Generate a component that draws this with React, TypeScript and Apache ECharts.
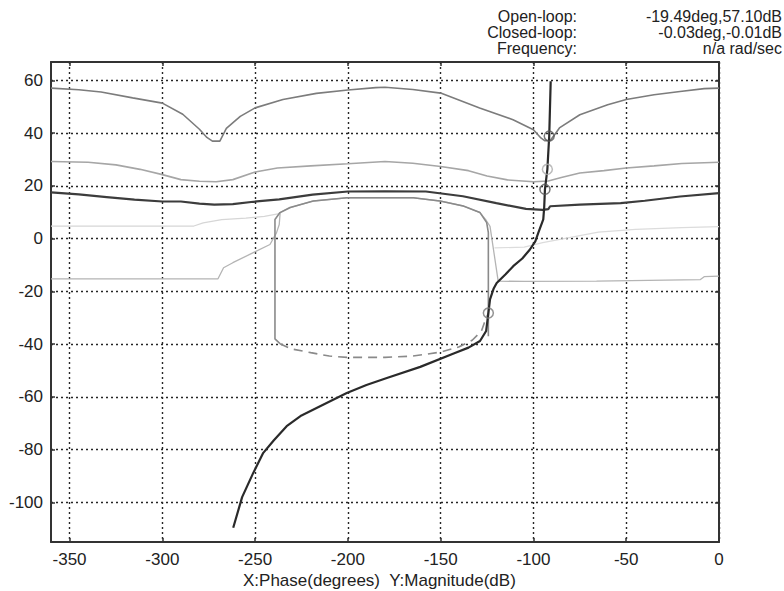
import React, { useEffect, useRef } from "react";
import * as echarts from "echarts";

// ---- tick labels ----
const xTicks = [-350, -300, -250, -200, -150, -100, -50, 0];
const yTicks = [-100, -80, -60, -40, -20, 0, 20, 40, 60];

// ---- header readout ----
const headerLabels = ["Open-loop:", "Closed-loop:", "Frequency:"];
const headerValues = ["-19.49deg,57.10dB", "-0.03deg,-0.01dB", "n/a rad/sec"];
const axisTitle = "X:Phase(degrees)  Y:Magnitude(dB)";

// ---- series: [phase (deg), magnitude (dB)] ----
const contourTop = [
  [-360, 57.1], [-345, 56.5], [-333, 55.6], [-316, 53.4], [-300, 51.4], [-289, 47.2],
  [-280, 41.5], [-276, 38.4], [-273, 37.0], [-269, 37.0], [-265.5, 41.8], [-258, 46.4],
  [-250, 49.6], [-235, 52.8], [-217, 55.1], [-200, 56.4], [-185, 57.3], [-180, 57.4],
  [-165, 56.6], [-150, 55.2], [-129, 49.6], [-111, 45.1], [-100, 41.3], [-96, 38.2],
  [-94, 37.2], [-91, 37.2], [-88.5, 39.5], [-86, 42], [-75, 47], [-60, 50.8],
  [-50, 52.8], [-35, 54.6], [-21, 55.8], [-8, 56.9], [0, 57.1],
];
const contourMid = [
  [-360, 29.3], [-340, 29], [-325, 28], [-312, 26.3], [-300, 24.3], [-290, 22.4],
  [-280, 21.8], [-271, 21.6], [-262, 22.4], [-250, 25.3], [-238, 26.8], [-220, 27.6],
  [-200, 28.4], [-180, 29.3], [-165, 28.6], [-150, 27.4], [-135, 25.8], [-125, 23.8],
  [-114, 22.3], [-100, 21.6], [-92, 21.9], [-85, 23.2], [-75, 24.9], [-62, 25.8],
  [-50, 26.8], [-35, 27.6], [-20, 28.5], [0, 29.0],
];
const contourDark = [
  [-360, 17.6], [-345, 16.8], [-330, 15.8], [-315, 14.8], [-300, 14.1], [-290, 14.1],
  [-280, 13.3], [-272, 12.9], [-262, 13.1], [-251, 14.0], [-237, 14.9], [-219, 16.7],
  [-200, 17.9], [-180, 18.0], [-158, 17.9], [-138, 16.1], [-120, 13.5], [-104, 11.3],
  [-95, 10.9], [-92, 11.2], [-91, 12.3], [-75, 12.9], [-53, 13.5], [-40, 14.4],
  [-21, 16.0], [0, 17.3],
];
const contourLight = [
  [-360, -15.2], [-270, -15.2], [-267, -11.0], [-262, -9.1], [-251, -5.3], [-242, -2.2],
  [-238.5, 2.2], [-237, 5.4], [-236.5, 9.9], [-231, 11.8], [-218.6, 14.3], [-200.6, 15.5],
  [-164.7, 15.5], [-150.4, 14.3], [-137.8, 12.4], [-128.8, 9.9], [-125.5, 7.0],
  [-123.4, 4.7], [-119, -16.1], [-105, -16.2], [-66, -16.1], [-10, -15.5], [-8, -14.4],
  [0, -14.2],
];
const faintLeft = [
  [-360, 4.8], [-320, 4.8], [-283, 4.8], [-278, 6.0], [-268, 7.2], [-255, 7.8],
  [-245, 8.5], [-237, 9.5],
];
const faintRight = [
  [-121, -3.5], [-105, -3.2], [-95, -1.5], [-80, 0.5], [-65, 2.5], [-45, 3.5],
  [-20, 4.2], [0, 4.6],
];
const loopSolid = [
  [-236.6, -39.8], [-239.3, -38.0], [-239.3, 7.3], [-236.6, 9.9], [-231.2, 11.8],
  [-218.6, 14.3], [-200.6, 15.5], [-164.7, 15.5], [-150.4, 14.3], [-137.8, 12.4],
  [-128.8, 9.9], [-125.2, 6.1], [-124.3, 2.3], [-124.3, -37.0],
];
const loopDashed = [
  [-236.6, -39.8], [-231, -41.7], [-220, -43.2], [-210, -44.5], [-200, -45],
  [-180, -45], [-165, -44.5], [-150, -43], [-140, -41], [-133, -38.5], [-128, -35],
  [-126, -31], [-124.3, -28.2],
];
const openLoop = [
  [-261.8, -109.6], [-257, -98], [-251, -88.8], [-245.6, -81.2], [-240, -76.5],
  [-233, -71.1], [-225, -67], [-215, -63.5], [-200.6, -58.5], [-190, -55.5],
  [-179, -52.8], [-161, -48.6], [-143, -43.5], [-135, -41.3], [-128.8, -38.8],
  [-125.5, -35], [-124.3, -28.2], [-123.4, -23], [-121.5, -19], [-119.8, -16.8],
  [-115, -13.5], [-110.9, -10.4], [-106, -7.5], [-101.9, -4.1], [-99, -1],
  [-97.4, 2.2], [-94.7, 7.3], [-94.2, 12], [-93.8, 18.7], [-92.5, 26.3],
  [-91.5, 38.9], [-90.7, 59.7],
];
const markersDark = [[-91.5, 38.9], [-93.8, 18.7]];
const markersLight = [[-92.5, 26.3]];
const markersMid = [[-124.3, -28.2]];

const FONT = "Liberation Sans, Arial, sans-serif";
const FS = 17;

function buildOption(): any {
  const gridLine = { show: true, lineStyle: { color: "#262626", width: 1.4, type: [2, 3] } };
  const axisLine = { show: true, onZero: false, lineStyle: { color: "#333", width: 2 } };
  const label = { color: "#222", fontSize: FS, fontFamily: FONT };
  const tick = (vals: number[]) => ({
    show: true, inside: true, length: 4, customValues: vals,
    lineStyle: { color: "#333", width: 1.5 },
  });
  const line = (data: number[][], color: string, width: number, type: any = "solid", z = 2) => ({
    type: "line",
    data,
    showSymbol: false,
    symbol: "none",
    lineStyle: { color, width, type },
    z,
    silent: true,
  });
  const marks = (data: number[][], color: string) => ({
    type: "scatter",
    data,
    symbol: "circle",
    symbolSize: 10,
    itemStyle: { color: "rgba(0,0,0,0)", borderColor: color, borderWidth: 1.5 },
    z: 5,
    silent: true,
  });
  const header = (lines: string[], x: number) => ({
    type: "text", x, y: 8,
    style: {
      text: lines.join("\n"), fill: "#222", fontSize: 16, lineHeight: 16,
      fontFamily: FONT, align: "right", verticalAlign: "top",
    },
  });
  return {
    animation: false,
    backgroundColor: "#fff",
    grid: { left: 51, top: 62, width: 668, height: 480, show: false },
    xAxis: [
      {
        type: "value", min: -360, max: 0, position: "bottom",
        axisLine, splitLine: gridLine, axisTick: tick(xTicks),
        axisLabel: { ...label, margin: 9, customValues: xTicks },
      },
      {
        type: "value", min: -360, max: 0, position: "top",
        axisLine, splitLine: { show: false }, axisTick: tick(xTicks),
        axisLabel: { show: false },
      },
    ],
    yAxis: [
      {
        type: "value", min: -115, max: 67, position: "left",
        axisLine, splitLine: gridLine, axisTick: tick(yTicks),
        axisLabel: { ...label, margin: 8, customValues: yTicks },
      },
      {
        type: "value", min: -115, max: 67, position: "right",
        axisLine, splitLine: { show: false }, axisTick: tick(yTicks),
        axisLabel: { show: false },
      },
    ],
    series: [
      line(faintLeft, "#d6d6d6", 1.2),
      line(faintRight, "#dcdcdc", 1.2),
      line(contourLight, "#b4b4b4", 1.3),
      line(contourTop, "#7c7c7c", 1.6),
      line(contourMid, "#a6a6a6", 1.6),
      line(contourDark, "#3c3c3c", 2.2),
      line(loopSolid, "#8a8a8a", 1.6),
      line(loopDashed, "#8a8a8a", 1.6, [9, 6]),
      line(openLoop, "#2a2a2a", 2.2, "solid", 3),
      marks(markersDark, "#555"),
      marks(markersLight, "#aaa"),
      marks(markersMid, "#777"),
    ],
    graphic: [
      header(headerLabels, 577),
      header(headerValues, 782),
      {
        type: "text", left: 243, top: 572,
        style: { text: axisTitle, fill: "#222", fontSize: FS, fontFamily: FONT },
      },
    ],
  };
}

export default function App() {
  const ref = useRef<HTMLDivElement>(null);
  useEffect(() => {
    document.body.style.margin = "0";
    const chart = echarts.init(ref.current!, null, { renderer: "svg" });
    chart.setOption(buildOption());
    return () => chart.dispose();
  }, []);
  return <div ref={ref} style={{ width: 784, height: 591, background: "#fff" }} />;
}
